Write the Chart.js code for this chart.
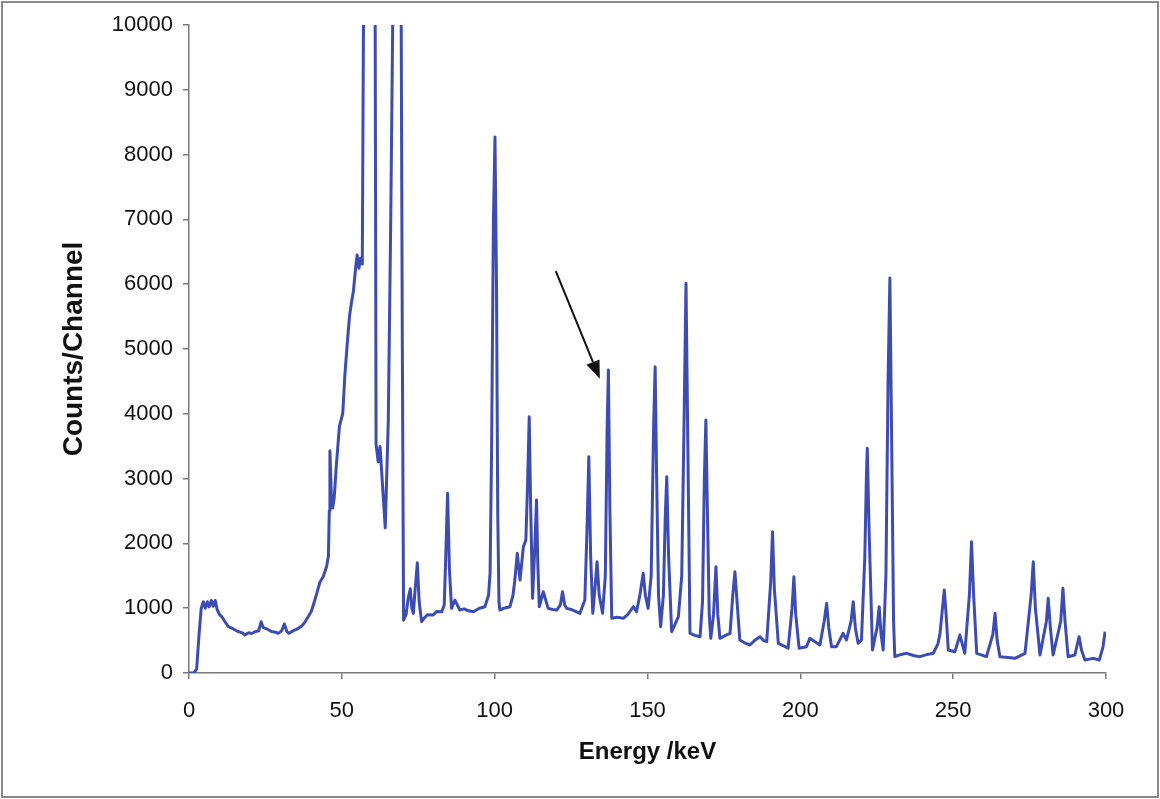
<!DOCTYPE html>
<html>
<head>
<meta charset="utf-8">
<script src="https://cdn.jsdelivr.net/npm/chart.js@4/dist/chart.umd.min.js"></script>
<style>
  html, body { margin: 0; padding: 0; background: #fff; }
  #wrap { width: 1160px; height: 799px; position: relative; }
</style>
</head>
<body>
<div id="wrap"><canvas id="chart" width="1160" height="799"></canvas></div>
<script>
// spectrum: [energy keV, counts/channel]
const spectrum = [
  [0, 0], [1.5, 0], [2.5, 60], [3.3, 600], [4.0, 1000], [4.7, 1100], [5.3, 1000], [6.0, 1100],
  [6.6, 1020], [7.3, 1120], [7.9, 1030], [8.6, 1120], [9.2, 980], [10.0, 900], [10.7, 870],
  [11.8, 790], [12.9, 714], [14.5, 680], [16.0, 640], [17.5, 620], [18.3, 586], [19.5, 620],
  [20.5, 610], [21.6, 637], [22.8, 650], [23.6, 792], [24.3, 700], [25.5, 680], [27.0, 640],
  [28.3, 630], [29.2, 612], [30.3, 650], [31.2, 756], [32.0, 640], [32.7, 612], [34.0, 650],
  [35.8, 690], [37.0, 730], [38.0, 790], [39.0, 869], [40.0, 950], [41.0, 1100], [41.8, 1230],
  [42.8, 1400], [43.9, 1486], [45.0, 1640], [45.6, 1800], [45.9, 2500], [46.1, 3428], [46.6, 2700],
  [47.0, 2546], [47.5, 2700], [48.2, 3200], [49.2, 3802], [50.3, 4005], [51.0, 4600], [51.8, 5100],
  [52.5, 5500], [53.1, 5703], [53.8, 5900], [54.5, 6246], [55.0, 6450], [55.6, 6246], [56.1, 6400],
  [56.7, 6313], [57.1, 10300], [58.0, 30000], [59.3, 40000], [60.9, 10300], [61.2, 3530],
  [61.9, 3259], [62.5, 3496], [63.1, 3055], [64.2, 2240], [65.2, 3900], [66.0, 7000], [66.7, 10300],
  [67.5, 25000], [69.0, 20000], [69.4, 10300], [69.8, 5000], [70.2, 815],
  [71.0, 900], [71.7, 1150], [72.4, 1300], [72.9, 1000], [73.4, 920], [74.0, 1300], [74.7, 1700],
  [75.3, 1100], [76.1, 792], [77.0, 850], [78.0, 900], [79.9, 895], [81.0, 950], [82.7, 946],
  [83.5, 1050], [84.0, 1800], [84.6, 2773], [85.2, 1600], [85.9, 998], [87.0, 1126], [88.6, 972],
  [90.0, 990], [91.5, 960], [93.0, 946], [95.0, 1000], [96.8, 1023], [98.0, 1200], [98.5, 1543],
  [99.0, 3500], [99.6, 7000], [100.1, 8270], [100.6, 6000], [101.0, 2500], [101.4, 1100],
  [101.7, 972], [103.0, 1000], [105.0, 1023], [106.0, 1200], [106.6, 1435], [107.4, 1847],
  [108.3, 1435], [109.4, 1949], [110.2, 2052], [110.7, 2800], [111.3, 3955], [111.8, 2500],
  [112.4, 1152], [113.0, 1800], [113.7, 2669], [114.1, 1700], [114.6, 1023], [115.9, 1254],
  [117.5, 998], [119.0, 980], [120.3, 972], [121.5, 1050], [122.2, 1254], [122.9, 1050],
  [123.6, 998], [125.0, 980], [127.9, 921], [129.5, 1126], [130.2, 2200], [130.8, 3337],
  [131.4, 1800], [132.1, 921], [132.8, 1300], [133.5, 1717], [134.2, 1200], [135.3, 921],
  [136.2, 1500], [136.8, 3800], [137.2, 4675], [137.7, 2500], [138.3, 844], [140.0, 860],
  [142.1, 844], [143.5, 900], [145.4, 1023], [146.4, 946], [147.5, 1200], [148.6, 1538],
  [149.3, 1200], [150.2, 998], [151.2, 1500], [152.0, 3800], [152.5, 4726], [153.0, 3000],
  [153.6, 1200], [154.3, 714], [155.2, 1200], [155.8, 2400], [156.3, 3029], [156.9, 1800],
  [157.9, 637], [159.0, 750], [160.1, 869], [161.2, 1500], [162.0, 4000], [162.6, 6013],
  [163.2, 3500], [163.9, 612], [165.5, 580], [167.2, 560], [168.0, 1100], [168.6, 3000],
  [169.1, 3904], [169.6, 2500], [170.2, 900], [170.7, 535], [171.6, 900], [172.4, 1640],
  [173.0, 900], [173.7, 535], [175.5, 580], [177.0, 612], [177.9, 1200], [178.6, 1563],
  [179.3, 1100], [180.2, 509], [182.0, 460], [183.5, 432], [185.0, 500], [186.8, 560],
  [188.0, 500], [189.0, 483], [190.3, 1400], [190.9, 2180], [191.5, 1300], [192.8, 458],
  [194.5, 420], [196.0, 381], [197.3, 1000], [197.9, 1486], [198.5, 900], [199.6, 381],
  [202.0, 406], [203.1, 535], [204.8, 483], [206.4, 432], [207.8, 800], [208.6, 1075],
  [209.3, 700], [210.2, 406], [211.8, 406], [214.0, 612], [215.1, 509], [216.6, 800],
  [217.3, 1100], [218.0, 700], [218.9, 458], [220.0, 509], [221.1, 1800], [221.6, 3000],
  [221.9, 3467], [222.5, 2200], [223.6, 355], [225.1, 700], [225.8, 1023], [226.4, 600],
  [227.1, 355], [228.0, 1500], [228.7, 4500], [229.3, 6095], [229.9, 3500], [230.5, 800],
  [230.9, 252], [232.5, 280], [234.8, 304], [237.0, 270], [239.1, 252], [241.0, 280],
  [243.5, 304], [245.0, 450], [245.7, 612], [246.5, 1000], [247.1, 1281], [247.7, 900],
  [248.4, 355], [250.6, 329], [252.2, 586], [253.8, 304], [255.3, 1200], [256.0, 2026],
  [256.7, 1200], [257.7, 304], [260.9, 252], [263.0, 600], [263.7, 921], [264.4, 500],
  [265.3, 252], [268.0, 240], [270.2, 226], [273.5, 304], [275.5, 1200], [276.2, 1717],
  [276.9, 1000], [278.4, 278], [280.5, 800], [281.1, 1152], [281.8, 700], [282.7, 278],
  [285.2, 800], [285.9, 1307], [286.6, 800], [287.6, 252], [289.8, 278], [291.2, 560],
  [292.0, 350], [293.1, 200], [295.8, 226], [297.8, 200], [299.0, 400], [299.7, 637]
];

// arrow annotation, in data units (tail, head)
const arrowTail = [120.0, 6200];
const arrowHead = [134.4, 4540];

const xTicks = [0, 50, 100, 150, 200, 250, 300];
const yTicks = [0, 1000, 2000, 3000, 4000, 5000, 6000, 7000, 8000, 9000, 10000];

const axisGray = '#7a7a7a';
const lineBlue = '#3d4cb3';
const sans = "'Liberation Sans', Arial, sans-serif";

const frameAndArrow = {
  id: 'frameAndArrow',
  beforeDraw(chart) {
    const c = chart.ctx;
    c.save();
    c.fillStyle = '#fff';
    c.fillRect(0, 0, chart.width, chart.height);
    c.restore();
  },
  afterDraw(chart) {
    const c = chart.ctx;
    const xs = chart.scales.x, ys = chart.scales.y;
    // outer frame round the picture
    c.save();
    c.strokeStyle = '#8a8a8a';
    c.lineWidth = 2;
    c.strokeRect(2, 2, chart.width - 4, chart.height - 4);

    // arrow
    const x0 = xs.getPixelForValue(arrowTail[0]), y0 = ys.getPixelForValue(arrowTail[1]);
    const x1 = xs.getPixelForValue(arrowHead[0]), y1 = ys.getPixelForValue(arrowHead[1]);
    const ang = Math.atan2(y1 - y0, x1 - x0);
    const headLen = 18, headW = 7;
    const bx = x1 - headLen * Math.cos(ang), by = y1 - headLen * Math.sin(ang);
    c.strokeStyle = '#111';
    c.fillStyle = '#111';
    c.lineWidth = 2;
    c.beginPath();
    c.moveTo(x0, y0);
    c.lineTo(bx, by);
    c.stroke();
    c.beginPath();
    c.moveTo(x1, y1);
    c.lineTo(bx + headW * Math.sin(ang), by - headW * Math.cos(ang));
    c.lineTo(bx - headW * Math.sin(ang), by + headW * Math.cos(ang));
    c.closePath();
    c.fill();
    c.restore();
  }
};

const cfg = {
  type: 'line',
  data: {
    datasets: [{
      label: 'Counts',
      data: spectrum.map(([x, y]) => ({ x, y })),
      borderColor: lineBlue,
      borderWidth: 3,
      pointRadius: 0,
      tension: 0,
      fill: false,
      borderJoinStyle: 'round'
    }]
  },
  options: {
    responsive: false,
    animation: false,
    parsing: false,
    layout: { padding: { left: 0, top: 25, right: 54, bottom: 0 } },
    plugins: { legend: { display: false }, tooltip: { enabled: false } },
    scales: {
      x: {
        type: 'linear',
        min: 0, max: 300,
        afterBuildTicks: s => { s.ticks = xTicks.map(v => ({ value: v })); },
        afterFit: s => { s.height = 126; },
        grid: { drawOnChartArea: false, drawTicks: true, tickLength: 6, color: axisGray, lineWidth: 1.5 },
        border: { display: true, color: axisGray, width: 1.5 },
        ticks: {
          color: '#111',
          padding: 19,
          maxRotation: 0,
          font: { family: sans, size: 22 },
          callback: v => String(v)
        },
        title: {
          display: true,
          text: 'Energy /keV',
          color: '#111',
          font: { family: sans, size: 24, weight: 'bold' },
          padding: { top: 0, bottom: 32 }
        }
      },
      y: {
        type: 'linear',
        min: 0, max: 10000,
        afterBuildTicks: s => { s.ticks = yTicks.map(v => ({ value: v })); },
        afterFit: s => { s.width = 189; },
        grid: { drawOnChartArea: false, drawTicks: true, tickLength: 6, color: axisGray, lineWidth: 1.5 },
        border: { display: true, color: axisGray, width: 1.5 },
        ticks: {
          color: '#111',
          padding: 10,
          font: { family: sans, size: 22 },
          callback: v => String(v)
        },
        title: {
          display: true,
          text: 'Counts/Channel',
          color: '#111',
          font: { family: sans, size: 28, weight: 'bold' },
          padding: { top: 57, bottom: 0 }
        }
      }
    }
  },
  plugins: [frameAndArrow]
};

new Chart(document.getElementById('chart').getContext('2d'), cfg);
</script>
</body>
</html>
